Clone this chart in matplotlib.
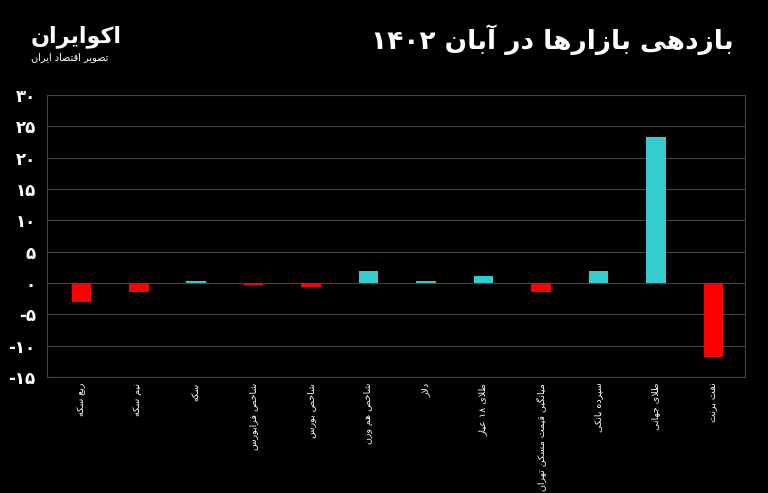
import matplotlib.pyplot as plt

plt.rcParams["font.family"] = ["DejaVu Sans"]

categories = ["ربع سکه", "نیم سکه", "سکه", "شاخص فرابورس", "شاخص بورس", "شاخص هم وزن",
              "دلار", "طلای ۱۸ عیار", "میانگین قیمت مسکن تهران", "سپرده بانکی",
              "طلای جهانی", "نفت برنت"]
values = [-3.0, -1.4, 0.3, -0.25, -0.6, 1.9, 0.3, 1.1, -1.4, 2.0, 23.3, -11.8]
yticks = [-15, -10, -5, 0, 5, 10, 15, 20, 25, 30]

# ساده‌ترین شکل‌دهی حروف فارسی (isolated, final, initial, medial)
FORMS = {
    "ا": (0xFE8D, 0xFE8E), "آ": (0xFE81, 0xFE82), "د": (0xFEA9, 0xFEAA),
    "ذ": (0xFEAB, 0xFEAC), "ر": (0xFEAD, 0xFEAE), "ز": (0xFEAF, 0xFEB0),
    "و": (0xFEED, 0xFEEE),
    "ب": (0xFE8F, 0xFE90, 0xFE91, 0xFE92), "پ": (0xFB56, 0xFB57, 0xFB58, 0xFB59),
    "ت": (0xFE95, 0xFE96, 0xFE97, 0xFE98), "ج": (0xFE9D, 0xFE9E, 0xFE9F, 0xFEA0),
    "ح": (0xFEA1, 0xFEA2, 0xFEA3, 0xFEA4), "خ": (0xFEA5, 0xFEA6, 0xFEA7, 0xFEA8),
    "س": (0xFEB1, 0xFEB2, 0xFEB3, 0xFEB4), "ش": (0xFEB5, 0xFEB6, 0xFEB7, 0xFEB8),
    "ص": (0xFEB9, 0xFEBA, 0xFEBB, 0xFEBC), "ط": (0xFEC1, 0xFEC2, 0xFEC3, 0xFEC4),
    "ع": (0xFEC9, 0xFECA, 0xFECB, 0xFECC), "ف": (0xFED1, 0xFED2, 0xFED3, 0xFED4),
    "ق": (0xFED5, 0xFED6, 0xFED7, 0xFED8), "ک": (0xFB8E, 0xFB8F, 0xFB90, 0xFB91),
    "گ": (0xFB92, 0xFB93, 0xFB94, 0xFB95), "ل": (0xFEDD, 0xFEDE, 0xFEDF, 0xFEE0),
    "م": (0xFEE1, 0xFEE2, 0xFEE3, 0xFEE4), "ن": (0xFEE5, 0xFEE6, 0xFEE7, 0xFEE8),
    "ه": (0xFEE9, 0xFEEA, 0xFEEB, 0xFEEC), "ی": (0xFBFC, 0xFBFD, 0xFBFE, 0xFBFF),
}


def fa(text):
    # lam-alef
    chars = []
    i = 0
    while i < len(text):
        if text[i] == "ل" and i + 1 < len(text) and text[i + 1] == "ا":
            chars.append("LA")
            i += 2
        else:
            chars.append(text[i])
            i += 1

    def joins_next(c):
        return c in FORMS and len(FORMS[c]) == 4

    def joinable(c):
        return c in FORMS or c == "LA"

    out = []
    for k, c in enumerate(chars):
        prev = chars[k - 1] if k > 0 else None
        nxt = chars[k + 1] if k + 1 < len(chars) else None
        p = prev is not None and joins_next(prev)
        if c == "LA":
            out.append(chr(0xFEFC if p else 0xFEFB))
            continue
        if c not in FORMS:
            out.append(c)
            continue
        f = FORMS[c]
        n = len(f) == 4 and nxt is not None and joinable(nxt)
        if p and n:
            out.append(chr(f[3]))
        elif p:
            out.append(chr(f[1]))
        elif n:
            out.append(chr(f[2]))
        else:
            out.append(chr(f[0]))
    # visual order: reverse, keep digit runs left-to-right
    s = "".join(out)[::-1]
    res, run = "", ""
    for ch in s:
        if "۰" <= ch <= "۹":
            run += ch
        else:
            res += run[::-1] + ch
            run = ""
    return res + run[::-1]


def fa_num(v):
    s = str(abs(v)).translate(str.maketrans("0123456789", "۰۱۲۳۴۵۶۷۸۹"))
    return ("-" if v < 0 else "") + s


fig = plt.figure(figsize=(7.68, 4.93), dpi=100, facecolor="black")
ax = fig.add_axes([0.061, 0.235, 0.909, 0.572], facecolor="black")

x = list(range(len(categories)))
colors = ["#ff0000" if v < 0 else "#33cccc" for v in values]
ax.bar(x, values, width=0.34, color=colors, zorder=3)

ax.set_ylim(-15, 30)
ax.set_xlim(-0.6, len(categories) - 0.45)
ax.set_yticks(yticks)
ax.set_yticklabels([fa_num(v) for v in yticks], color="white", fontsize=12, fontweight="bold")
ax.set_xticks(x)
ax.set_xticklabels([fa(c) for c in categories], rotation=90, color="white", fontsize=6.8,
                   va="top", ha="center")
ax.tick_params(length=0)
ax.tick_params(axis="x", pad=4)
ax.tick_params(axis="y", pad=8)
ax.grid(axis="y", color="#444444", linewidth=0.8, zorder=0)
for s in ax.spines.values():
    s.set_color("#444444")

fig.text(0.955, 0.92, fa("بازدهی بازارها در آبان ۱۴۰۲"), color="white", fontsize=19,
         fontweight="bold", ha="right", va="center")
fig.text(0.04, 0.925, fa("اکوایران"), color="white", fontsize=16, fontweight="bold",
         ha="left", va="center")
fig.text(0.04, 0.885, fa("تصویر اقتصاد ایران"), color="white", fontsize=7,
         ha="left", va="center")

fig.savefig("out.png", dpi=100, facecolor="black")
